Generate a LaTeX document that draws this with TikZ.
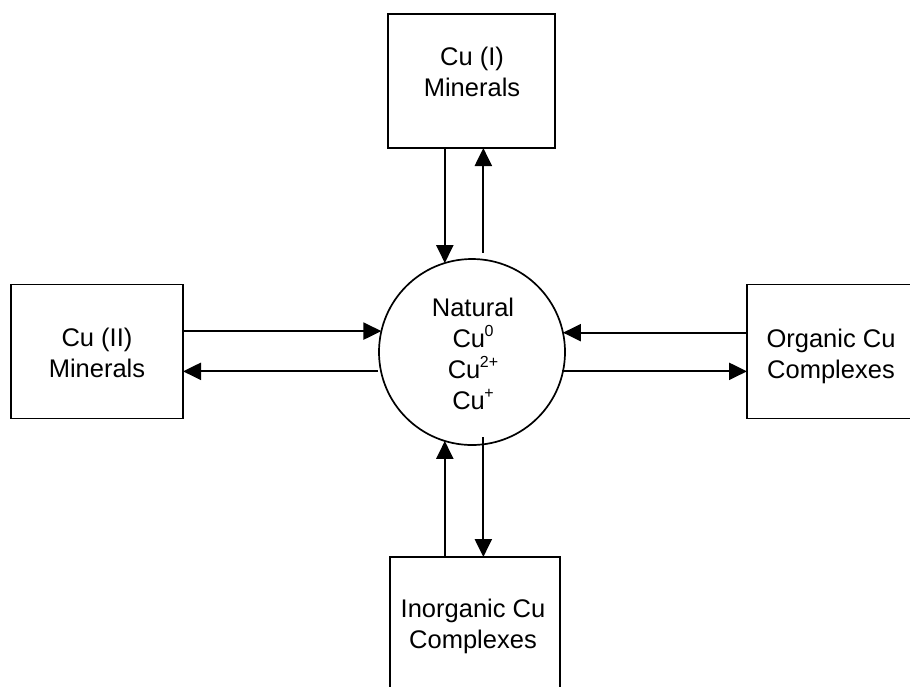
\documentclass[tikz,border=0pt]{standalone}
\usepackage{fontspec}
\setmainfont{Liberation Sans}
\usetikzlibrary{arrows.meta}
\newcommand{\supx}[1]{\kern-0.5pt\raisebox{0.42em}{\fontsize{16}{16}\selectfont #1}}
\begin{document}
\begin{tikzpicture}[x=1pt,y=-1pt,
  box/.style={draw, line width=1.8pt, minimum width=172pt, minimum height=134pt, inner sep=0pt, outer sep=0pt},
  txt/.style={align=center, font=\fontsize{25.5}{31}\selectfont, inner sep=0pt},
  arr/.style={line width=2.3pt, -{Triangle[length=18pt,width=17pt]}}]
\useasboundingbox (0,0) rectangle (910,686);
\clip (0,0) rectangle (910,686);
\fill[white] (0,0) rectangle (910,686);
% boxes
\node[box, minimum width=167pt] (top) at (471.5,81) {};
\node[txt] (toptxt) at (472,72) {Cu (I)\\Minerals};
\node[box] (left) at (97,351.5) {};
\node[txt] (lefttxt) at (97,353) {Cu (II)\\Minerals};
\node[box] (right) at (833,351.5) {};
\node[txt] (righttxt) at (831,356) {Organic Cu\\Complexes};
\node[box, minimum width=170pt] (bot) at (475,624) {};
\node[txt] (bottxt) at (473,626) {Inorganic Cu\\Complexes};
% center circle
\node[draw, circle, line width=1.7pt, minimum size=186pt, inner sep=0pt, outer sep=0pt] (c) at (472,352) {};
\node[txt] (ctxt) at (473,354) {Natural\\Cu\supx{0}\\Cu\supx{2+}\\Cu\supx{+}};
% top arrows
\draw[arr] (top.south -| c.107) -- (c.107);
\draw[arr] ([yshift=7pt]c.83) -- (top.south -| c.83);
% left arrows
\draw[arr] (left.east |- c.167.6) -- (c.167.6);
\draw[arr] ([xshift=-3pt]c.192.4) -- (left.east |- c.192.4);
% right arrows
\draw[arr] (right.west |- c.12.4) -- (c.12.4);
\draw[arr] ([xshift=-1pt]c.-12.4) -- (right.west |- c.-12.4);
% bottom arrows
\draw[arr] (bot.north -| c.253) -- (c.253);
\draw[arr] ([yshift=7pt]c.277) -- (bot.north -| c.277);
\end{tikzpicture}
\end{document}
